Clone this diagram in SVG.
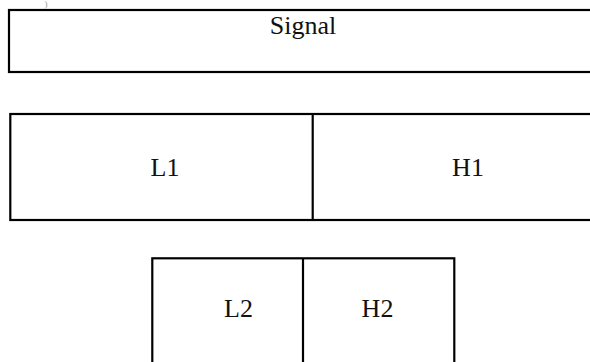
<svg xmlns="http://www.w3.org/2000/svg" width="590" height="362" viewBox="0 0 590 362">
<style>
.box{fill:#fff;stroke:#000;stroke-width:2.2}
.ln{stroke:#000;stroke-width:2.2}
.t{font-size:26px;fill:#111;text-anchor:middle}
</style>
<rect width="590" height="362" fill="#fff"/>
<g font-family="Liberation Serif, Times New Roman, serif">
<text class="t" x="46" y="7" style="font-size:9px;fill:#999">)</text>
<g id="signal">
<rect class="box" x="9" y="10" width="600" height="62"/>
<text class="t" x="303" y="33.5">Signal</text>
</g>
<g id="level1">
<rect class="box" x="10.3" y="114" width="600" height="106"/>
<line class="ln" x1="312.7" y1="114" x2="312.7" y2="220"/>
<text class="t" x="165" y="176">L1</text>
<text class="t" x="468" y="176">H1</text>
</g>
<g id="level2">
<rect class="box" x="152.3" y="258.3" width="302" height="120"/>
<line class="ln" x1="303" y1="258.3" x2="303" y2="370"/>
<text class="t" x="238.5" y="317">L2</text>
<text class="t" x="377.5" y="317">H2</text>
</g>
</g>
<g id="connectors"/>
</svg>
